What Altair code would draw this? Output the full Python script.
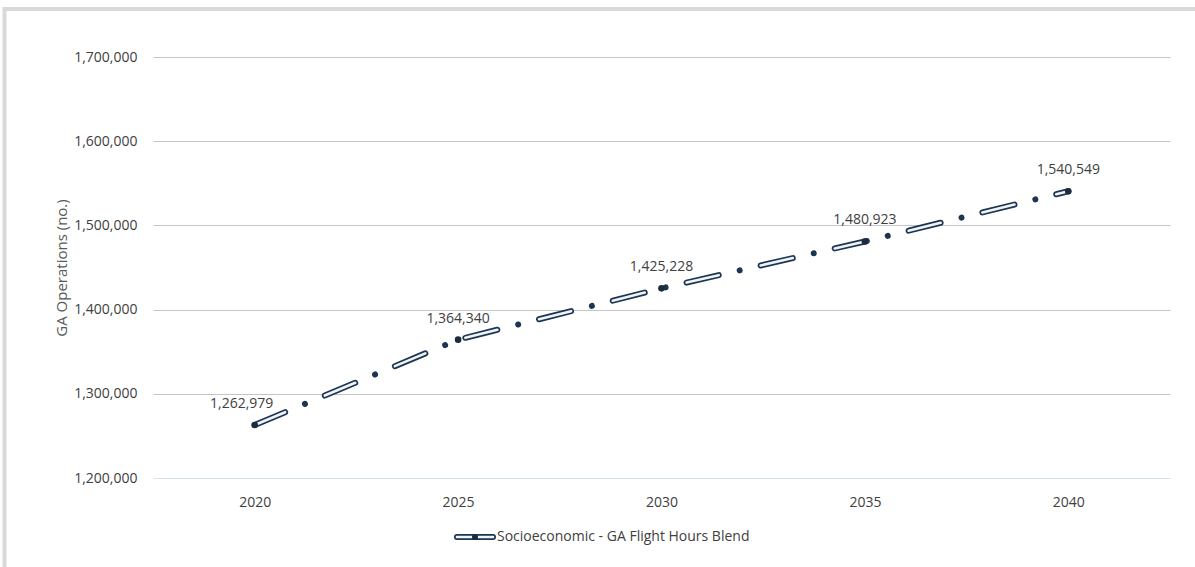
import altair as alt
import pandas as pd

# GA operations forecast, blended socioeconomic / flight-hours model
series_name = "Socioeconomic - GA Flight Hours Blend"
years = ["2020", "2025", "2030", "2035", "2040"]
operations = [1262979, 1364340, 1425228, 1480923, 1540549]

y_ticks = [1200000, 1300000, 1400000, 1500000, 1600000, 1700000]

df = pd.DataFrame({"year": years, "ops": operations, "series": series_name})

FONT = "Open Sans"
DARK = "#1d3550"
INNER = "#eef4f9"

x_enc = alt.X(
    "year:O",
    scale=alt.Scale(type="point", padding=0.5),
    axis=alt.Axis(
        title=None, labelAngle=0, domain=False, ticks=False, grid=False,
        labelFont=FONT, labelFontSize=14, labelColor="#404040", labelPadding=17,
    ),
)
y_enc = alt.Y(
    "ops:Q",
    scale=alt.Scale(domain=[1200000, 1700000], nice=False, zero=False),
    axis=alt.Axis(
        title="GA Operations (no.)", values=y_ticks, format=",.0f",
        domain=False, ticks=False, grid=True,
        gridColor={"condition": {"test": "datum.value === 1200000", "value": "#d5e3ee"}, "value": "#c4c4c4"},
        gridWidth=1.2,
        labelFont=FONT, labelFontSize=14, labelColor="#404040", labelPadding=16,
        titleFont=FONT, titleFontSize=15, titleFontWeight="normal", titleColor="#595959",
        titlePadding=4,
    ),
)

base = alt.Chart(df).encode(x=x_enc, y=y_enc)

# double-stroked dash-dot line: dark outline first, light core on top
outer = base.mark_line(
    color=DARK, strokeWidth=6, strokeCap="round",
    strokeDash=[33, 21.5, 0.01, 21.5],
)
inner = base.mark_line(
    color=INNER, strokeWidth=2.6, strokeCap="round",
    strokeDash=[33, 43.01],
)
points = base.mark_circle(color="#1b2c40", size=44, opacity=1)

labels = base.transform_filter(alt.datum.year != "2020").mark_text(
    font=FONT, fontSize=14, color="#404040", dy=-21,
).encode(text=alt.Text("ops:Q", format=",.0f"))

first_label = base.transform_filter(alt.datum.year == "2020").mark_text(
    font=FONT, fontSize=14, color="#404040", dy=-21, dx=-13,
).encode(text=alt.Text("ops:Q", format=",.0f"))

# legend entry drawn below the plot
legend_df = pd.DataFrame({"series": [series_name]})
leg = alt.Chart(legend_df)
leg_outer = leg.mark_rule(color=DARK, strokeWidth=6, strokeCap="round").encode(
    x=alt.value(304), x2=alt.value(340), y=alt.value(480)
)
leg_inner = leg.mark_rule(color=INNER, strokeWidth=2.6, strokeCap="round").encode(
    x=alt.value(304), x2=alt.value(340), y=alt.value(480)
)
leg_dot = leg.mark_circle(color="#1b2c40", size=36, opacity=1).encode(
    x=alt.value(322), y=alt.value(480)
)
leg_text = leg.mark_text(
    font=FONT, fontSize=14, color="#404040", align="left", baseline="middle"
).encode(x=alt.value(344), y=alt.value(480), text="series:N")

# light frame around the chart
frame = alt.Chart(pd.DataFrame({"k": [0]})).mark_rect(
    fillOpacity=0, stroke="#d9d9d9", strokeWidth=4
).encode(x=alt.value(-148.5), x2=alt.value(1200), y=alt.value(-48), y2=alt.value(600))

chart = alt.layer(
    frame, outer, inner, points, labels, first_label,
    leg_outer, leg_inner, leg_dot, leg_text,
).properties(
    width=1017, height=421,
    autosize=alt.AutoSizeParams(type="none"),
    padding={"left": 153, "top": 57, "right": 25, "bottom": 89},
    background="white",
).configure_view(stroke=None)

chart.save("out.html", embed_options={"renderer": "svg", "actions": False})
